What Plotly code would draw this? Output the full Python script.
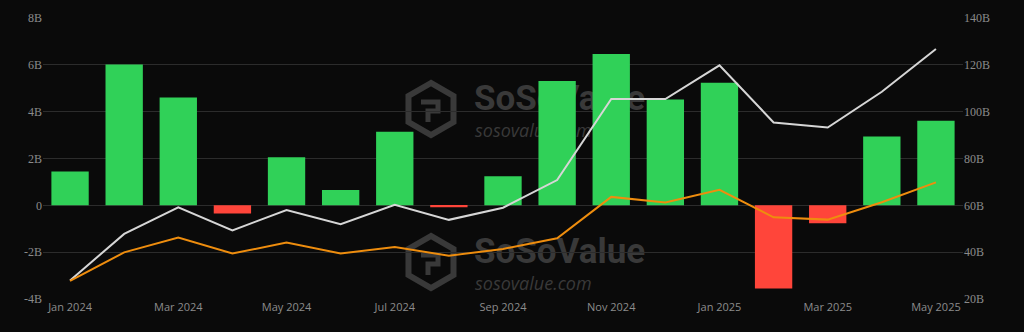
import math
import plotly.graph_objects as go

months = ["Jan 2024", "Feb 2024", "Mar 2024", "Apr 2024", "May 2024", "Jun 2024",
          "Jul 2024", "Aug 2024", "Sep 2024", "Oct 2024", "Nov 2024", "Dec 2024",
          "Jan 2025", "Feb 2025", "Mar 2025", "Apr 2025", "May 2025"]
net_inflow = [1.44, 6.01, 4.60, -0.35, 2.05, 0.65, 3.14, -0.08, 1.24, 5.31,
              6.46, 4.52, 5.23, -3.55, -0.77, 2.94, 3.61]
total_assets = [27.9, 47.8, 59.1, 49.3, 58.0, 51.9, 60.2, 53.8, 59.0, 70.8,
                105.4, 105.4, 119.8, 95.4, 93.2, 108.5, 126.8]
cum_inflow = [27.7, 39.9, 46.2, 39.4, 44.1, 39.4, 42.2, 38.5, 41.4, 45.9,
              63.6, 61.2, 66.6, 54.9, 53.9, 61.3, 69.8]
x_ticks = ["Jan 2024", "Mar 2024", "May 2024", "Jul 2024", "Sep 2024",
           "Nov 2024", "Jan 2025", "Mar 2025", "May 2025"]
left_vals = [-4, -2, 0, 2, 4, 6, 8]
left_text = ["-4B", "-2B", "0", "2B", "4B", "6B", "8B"]
right_vals = [20, 40, 60, 80, 100, 120, 140]
right_text = ["20B", "40B", "60B", "80B", "100B", "120B", "140B"]

GREEN = "#30d158"
RED = "#ff453a"
bar_colors = [GREEN if v >= 0 else RED for v in net_inflow]

fig = go.Figure()
fig.add_trace(go.Bar(x=months, y=net_inflow, marker=dict(color=bar_colors, line=dict(width=0)),
                     yaxis="y", showlegend=False))
fig.add_trace(go.Scatter(x=months, y=total_assets, mode="lines",
                         line=dict(color="#d6d6d6", width=2), yaxis="y2", showlegend=False))
fig.add_trace(go.Scatter(x=months, y=cum_inflow, mode="lines",
                         line=dict(color="#ee8d0e", width=2), yaxis="y2", showlegend=False))

# plot area in pixels
L, R, T, B = 43, 963, 18, 299
W, H = R - L, B - T

def px(x):
    return (x - L) / W

def py(y):
    return (B - y) / H

shapes = []
wm_color = "#393939"
for cy, ty1, ty2 in [(109, 95, 131), (262, 248, 284)]:
    cx, r = 431, 26
    pts = []
    for k in range(6):
        a = math.radians(90 + 60 * k)
        pts.append((cx + r * math.cos(a), cy - r * math.sin(a)))
    path = "M " + " L ".join(f"{px(a):.5f},{py(b):.5f}" for a, b in pts) + " Z"
    shapes.append(dict(type="path", path=path, xref="paper", yref="paper",
                       line=dict(color=wm_color, width=6), layer="between"))
    inner = [(cx - 10, cy - 7), (cx + 7, cy - 7), (cx + 7, cy + 2), (cx - 3, cy + 2),
             (cx - 3, cy + 13)]
    path2 = "M " + " L ".join(f"{px(a):.5f},{py(b):.5f}" for a, b in inner)
    shapes.append(dict(type="path", path=path2, xref="paper", yref="paper",
                       line=dict(color=wm_color, width=5), layer="between"))
    shapes.append(dict(type="rect", xref="paper", yref="paper",
                       x0=px(471), x1=px(660), y0=py(ty1 + 14), y1=py(ty1 - 14),
                       line=dict(width=0), fillcolor="rgba(0,0,0,0)", layer="between",
                       label=dict(text="<b>SoSoValue</b>", font=dict(size=35, color=wm_color,
                                  family="Roboto", weight=900), textposition="middle left", padding=0)))
    shapes.append(dict(type="rect", xref="paper", yref="paper",
                       x0=px(472), x1=px(620), y0=py(ty2 + 8), y1=py(ty2 - 8),
                       line=dict(width=0), fillcolor="rgba(0,0,0,0)", layer="between",
                       label=dict(text="<i>sosovalue.com</i>", font=dict(size=18, color=wm_color,
                                  family="Open Sans"), textposition="middle left", padding=0)))

fig.update_layout(
    width=1024, height=332,
    margin=dict(l=L, r=1024 - R, t=T, b=332 - B),
    paper_bgcolor="#0a0a0a", plot_bgcolor="#0a0a0a",
    bargap=0.31,
    shapes=shapes,
    xaxis=dict(type="category", categoryorder="array", categoryarray=months,
               range=[-0.5, 16.5], tickvals=x_ticks, ticktext=x_ticks,
               showgrid=False, zeroline=False, showline=False, ticks="",
               tickfont=dict(family="Open Sans", size=11, color="#8c8c8c")),
    yaxis=dict(range=[-4, 8], tickvals=left_vals, ticktext=left_text,
               showgrid=True, gridcolor="#2c2c2c", gridwidth=1, zeroline=False,
               ticks="", tickfont=dict(family="Liberation Serif", size=12, color="#8a8a8a")),
    yaxis2=dict(range=[20, 140], tickvals=right_vals, ticktext=right_text, overlaying="y",
                side="right", showgrid=False, zeroline=False, ticks="",
                tickfont=dict(family="Liberation Serif", size=12, color="#8a8a8a")),
)

fig.write_html("out.html")
